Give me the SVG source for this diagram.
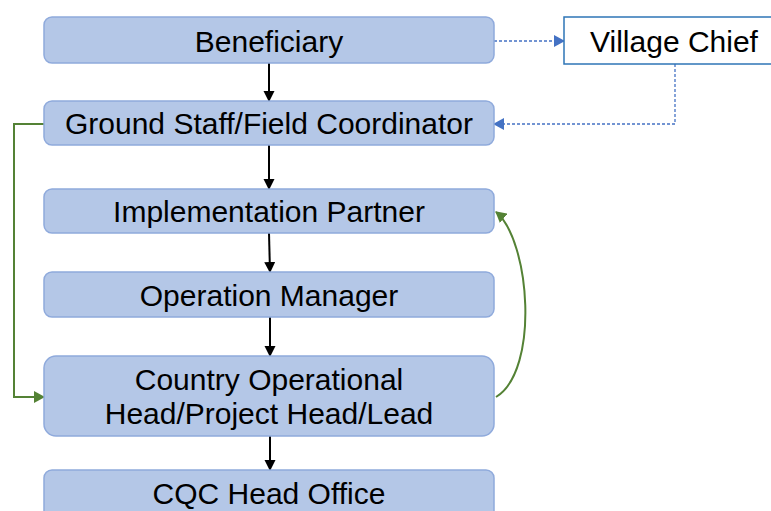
<svg xmlns="http://www.w3.org/2000/svg" width="771" height="511" viewBox="0 0 771 511">
<style>
.box{fill:#b4c7e7;stroke:#8faadc;stroke-width:1.5}
.t{font-family:"Liberation Sans",Arial,sans-serif;font-size:30px;fill:#000;text-anchor:middle}
.blk{stroke:#000;stroke-width:2;fill:none}
.dot{stroke:#4472c4;stroke-width:1.3;stroke-dasharray:3 2;fill:none}
.grn{stroke:#548235;stroke-width:2;fill:none}
</style>
<defs>
<marker id="ab" markerWidth="12" markerHeight="12" refX="10" refY="5.5" orient="auto" markerUnits="userSpaceOnUse"><path d="M0,0 L11,5.5 L0,11 Z" fill="#000"/></marker>
<marker id="au" markerWidth="12" markerHeight="12" refX="10" refY="6" orient="auto" markerUnits="userSpaceOnUse"><path d="M0,0 L11,6 L0,12 Z" fill="#4472c4"/></marker>
<marker id="ag" markerWidth="12" markerHeight="12" refX="10" refY="6" orient="auto" markerUnits="userSpaceOnUse"><path d="M0,0 L11,6 L0,12 Z" fill="#548235"/></marker>
</defs>
<g id="connectors">
<line class="blk" x1="269" y1="63" x2="269" y2="101" marker-end="url(#ab)"/>
<line class="blk" x1="269" y1="145" x2="269" y2="189" marker-end="url(#ab)"/>
<line class="blk" x1="269" y1="233" x2="270" y2="272" marker-end="url(#ab)"/>
<line class="blk" x1="270" y1="317" x2="270" y2="356" marker-end="url(#ab)"/>
<line class="blk" x1="270" y1="436" x2="270" y2="470" marker-end="url(#ab)"/>
<path class="dot" d="M494,41 H564" marker-end="url(#au)"/>
<path class="dot" d="M675,64 V124 H494" marker-end="url(#au)"/>
<path class="grn" d="M44,124 H14 V397 H44" marker-end="url(#ag)"/>
<path class="grn" d="M496,397 C540,370 530,240 496,212" marker-end="url(#ag)"/>
</g>
<g id="beneficiary"><rect class="box" x="44" y="17" width="450" height="46" rx="8"/><text class="t" x="269" y="52">Beneficiary</text></g>
<g id="village-chief"><rect x="564" y="17" width="220" height="47" fill="#fff" stroke="#2e75b6" stroke-width="1.5"/><text class="t" x="674" y="52">Village Chief</text></g>
<g id="ground-staff"><rect class="box" x="44" y="101" width="450" height="44" rx="8"/><text class="t" x="269" y="134">Ground Staff/Field Coordinator</text></g>
<g id="implementation-partner"><rect class="box" x="44" y="189" width="450" height="44" rx="8"/><text class="t" x="269" y="222">Implementation Partner</text></g>
<g id="operation-manager"><rect class="box" x="44" y="272" width="450" height="45" rx="8"/><text class="t" x="269" y="306">Operation Manager</text></g>
<g id="country-head"><rect class="box" x="44" y="356" width="450" height="80" rx="12"/><text class="t" x="269" y="390">Country Operational</text><text class="t" x="269" y="424">Head/Project Head/Lead</text></g>
<g id="cqc"><rect class="box" x="44" y="470" width="450" height="60" rx="8"/><text class="t" x="269" y="504">CQC Head Office</text></g>
</svg>
